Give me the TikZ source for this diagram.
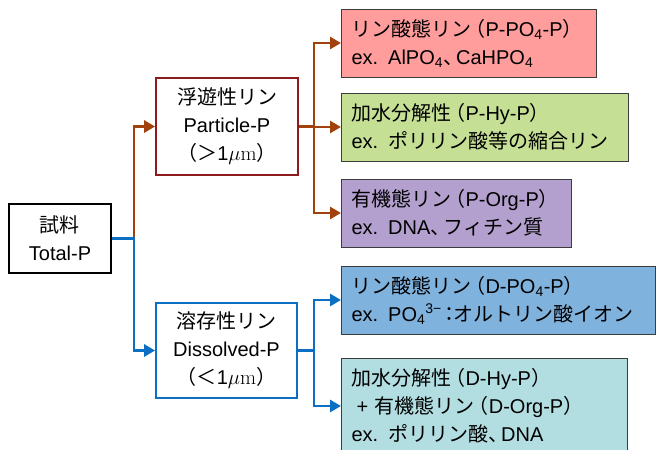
\documentclass[tikz,border=0pt]{standalone}
\usepackage[no-math]{fontspec}
\setmainfont{Liberation Sans}
\newfontfamily\jp{Noto Sans CJK JP}
\usetikzlibrary{
  arrows.meta,
  positioning
}
\definecolor{partred}{HTML}{8E1B1B}
\definecolor{arrowbrown}{HTML}{A3410C}
\definecolor{dissblue}{HTML}{0B70C4}
\definecolor{boxgray}{HTML}{3C3C3C}
\definecolor{fillpink}{HTML}{FF9C9C}
\definecolor{fillgreen}{HTML}{C5DF95}
\definecolor{fillpurple}{HTML}{B4A0CE}
\definecolor{fillblue}{HTML}{80B2DE}
\definecolor{fillcyan}{HTML}{B2DDE1}
% tight full-width brackets
\newcommand{\lpar}{\kern-0.3em{\jp （}}
\newcommand{\rpar}{{\jp ）}\kern-0.45em}

\begin{document}
\begin{tikzpicture}[
    x=1pt, y=-1pt,
    every node/.style={font=\fontsize{20}{28}\selectfont},
    mainbox/.style={rectangle, align=center, inner sep=0pt, fill=white},
    formbox/.style={rectangle, draw=boxgray, line width=1pt, anchor=west,
                 align=left, inner xsep=10pt, inner ysep=0pt, minimum height=68pt},
    redarrow/.style={-{Triangle[length=11pt, width=12pt]}, line width=2.8pt, arrowbrown},
    bluearrow/.style={-{Triangle[length=11pt, width=12pt]}, line width=2.8pt, dissblue},
]
\useasboundingbox (0,0) rectangle (659,450);
\clip (0,0) rectangle (659,450);

% Sample and the two fractions
\node[mainbox, draw=black, line width=2pt, minimum width=102pt, minimum height=69pt]
  (total) at (60,238.5) {{\jp 試料}\\Total-P};
\node[mainbox, draw=partred, line width=1.8pt, minimum width=142pt, minimum height=97pt]
  (particle) at (227,126.5) {{\jp 浮遊性リン}\\Particle-P\\{\jp （＞}1$\mu\mathrm{m}${\jp ）}};
\node[mainbox, draw=dissblue, line width=1.8pt, minimum width=141pt, minimum height=95pt]
  (dissolved) at (226.5,350.5) {{\jp 溶存性リン}\\Dissolved-P\\{\jp （＜}1$\mu\mathrm{m}${\jp ）}};

% Phosphorus forms
\node[formbox, fill=fillpink, text width=235pt] (pPO4) at (341,43)
  {{\jp リン酸態リン}\lpar P-PO\textsubscript{4}-P\rpar\\ex. AlPO\textsubscript{4}{\jp 、}\kern-0.35em CaHPO\textsubscript{4}};
\node[formbox, fill=fillgreen, text width=267pt] (pHy) at (341,127)
  {{\jp 加水分解性}\lpar P-Hy-P\rpar\\ex. {\jp ポリリン酸等の縮合リン}};
\node[formbox, fill=fillpurple, text width=210pt] (pOrg) at (341,213)
  {{\jp 有機態リン}\lpar P-Org-P\rpar\\ex. DNA{\jp 、}\kern-0.35em{\jp フィチン質}};
\node[formbox, fill=fillblue, text width=294pt] (dPO4) at (341,300)
  {{\jp リン酸態リン}\lpar D-PO\textsubscript{4}-P\rpar\\ex. PO\textsubscript{4}\textsuperscript{3−}\kern-0.1em{\jp ：}\kern-0.3em{\jp オルトリン酸イオン}};
\node[formbox, fill=fillcyan, text width=266pt, minimum height=96pt] (dHy) at (341,406)
  {{\jp 加水分解性}\lpar D-Hy-P\rpar\\\hspace*{0.25em}+ {\jp 有機態リン}\lpar D-Org-P\rpar\\ex. {\jp ポリリン酸、}\kern-0.35em DNA};

% Connectors
\draw[redarrow] (total.east) -- ++(22,0) |- (particle.west);
\draw[bluearrow] (total.east) -- ++(22,0) |- (dissolved.west);

\draw[redarrow] (particle.east) -- ++(15,0) |- (pPO4.west);
\draw[redarrow] (particle.east) -- ++(15,0) |- (pHy.west);
\draw[redarrow] (particle.east) -- ++(15,0) |- (pOrg.west);

\draw[bluearrow] (dissolved.east) -- ++(16,0) |- (dPO4.west);
\draw[bluearrow] (dissolved.east) -- ++(16,0) |- (dHy.west);

\end{tikzpicture}
\end{document}
